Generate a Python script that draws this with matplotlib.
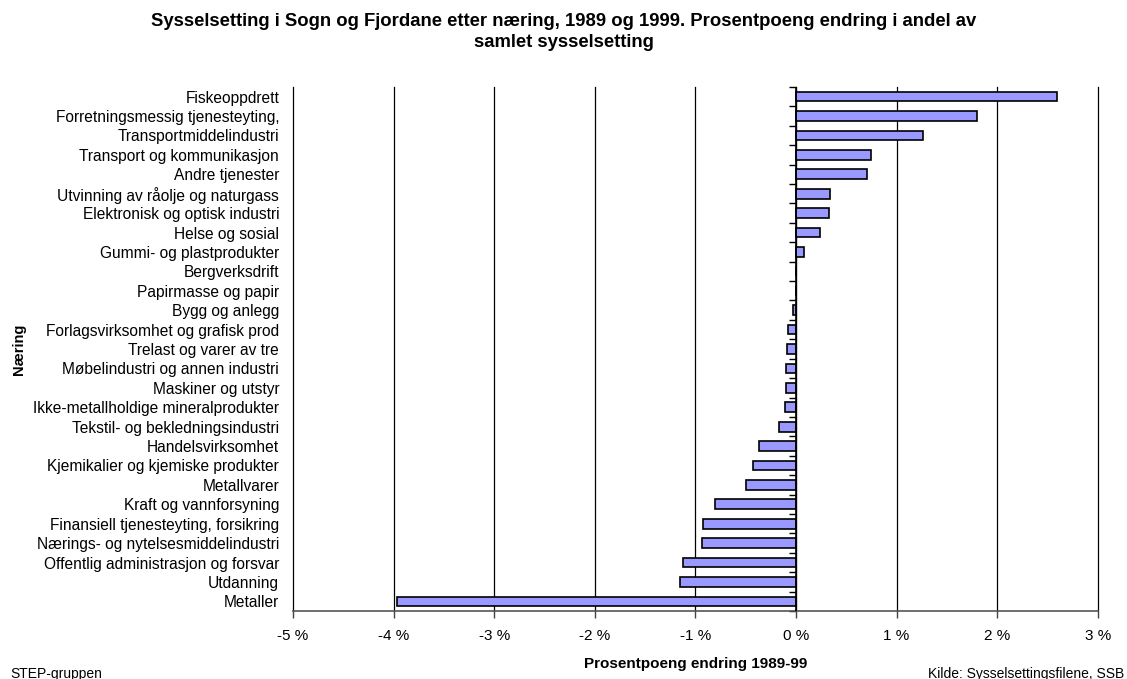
import numpy as np
import matplotlib
matplotlib.use("Agg")
import matplotlib.pyplot as plt

plt.rcParams['font.family'] = ['Liberation Sans', 'DejaVu Sans']

# næringer, fra toppen og ned
naering = [
    "Fiskeoppdrett",
    "Forretningsmessig tjenesteyting,",
    "Transportmiddelindustri",
    "Transport og kommunikasjon",
    "Andre tjenester",
    "Utvinning av råolje og naturgass",
    "Elektronisk og optisk industri",
    "Helse og sosial",
    "Gummi- og plastprodukter",
    "Bergverksdrift",
    "Papirmasse og papir",
    "Bygg og anlegg",
    "Forlagsvirksomhet og grafisk prod",
    "Trelast og varer av tre",
    "Møbelindustri og annen industri",
    "Maskiner og utstyr",
    "Ikke-metallholdige mineralprodukter",
    "Tekstil- og bekledningsindustri",
    "Handelsvirksomhet",
    "Kjemikalier og kjemiske produkter",
    "Metallvarer",
    "Kraft og vannforsyning",
    "Finansiell tjenesteyting, forsikring",
    "Nærings- og nytelsesmiddelindustri",
    "Offentlig administrasjon og forsvar",
    "Utdanning",
    "Metaller",
]
# prosentpoeng endring 1989-99
endring = [2.60, 1.80, 1.26, 0.745, 0.71, 0.34, 0.325, 0.24, 0.08, 0.0, 0.0,
           -0.03, -0.08, -0.09, -0.10, -0.10, -0.11, -0.17, -0.37, -0.43,
           -0.50, -0.80, -0.92, -0.93, -1.12, -1.15, -3.97]
x_ticks = [-5, -4, -3, -2, -1, 0, 1, 2, 3]
x_ticklabels = ["-5 %", "-4 %", "-3 %", "-2 %", "-1 %", "0 %", "1 %", "2 %", "3 %"]

fig = plt.figure(figsize=(11.27, 6.79), dpi=100)
ax = fig.add_axes([0.26, 0.100, 0.714, 0.772])

n = len(naering)
ypos = np.arange(n)
ax.barh(ypos, endring, height=0.5, color='#9999ff', edgecolor='black', linewidth=1.2, zorder=3)

ax.set_xlim(x_ticks[0], x_ticks[-1])
ax.set_ylim(n - 0.5, -0.5)

# gridlines
for xv in x_ticks:
    ax.axvline(xv, color='black', linewidth=0.9, zorder=1, clip_on=False)
ax.axvline(0, color='black', linewidth=1.2, zorder=4)

ax.set_xticks(x_ticks)
ax.set_xticklabels(x_ticklabels, fontsize=11)
ax.tick_params(axis='x', length=5, width=1, color='#444444', pad=8)

ax.set_yticks(ypos)
ax.set_yticklabels(naering, fontsize=11.2)
ax.tick_params(axis='y', length=0, pad=10)

for s in ['top', 'right', 'left']:
    ax.spines[s].set_visible(False)
ax.spines['bottom'].set_color('#555555')
ax.spines['bottom'].set_linewidth(1.2)

# tick marks on the category axis at x=0
zero_frac = (0 - x_ticks[0]) / (x_ticks[-1] - x_ticks[0])
sec = ax.secondary_yaxis(zero_frac)
sec.set_yticks(np.arange(n + 1) - 0.5)
sec.set_yticklabels([])
sec.tick_params(axis='y', length=5, width=1, direction='in', color='black')
sec.spines['left'].set_visible(False)

ax.set_xlabel("Prosentpoeng endring 1989-99", fontsize=11, fontweight='bold', labelpad=10)
fig.text(0.017, 0.486, "Næring", rotation=90, fontsize=10.5, fontweight='bold',
         ha='center', va='center')

fig.text(0.5, 0.968, "Sysselsetting i Sogn og Fjordane etter næring, 1989 og 1999. Prosentpoeng endring i andel av",
         ha='center', va='center', fontsize=13.3, fontweight='bold')
fig.text(0.5, 0.937, "samlet sysselsetting", ha='center', va='center', fontsize=13.3, fontweight='bold')

fig.text(0.009, 0.008, "STEP-gruppen", ha='left', va='center', fontsize=10)
fig.text(0.998, 0.008, "Kilde: Sysselsettingsfilene, SSB", ha='right', va='center', fontsize=10)

fig.savefig("out.png", dpi=100)
